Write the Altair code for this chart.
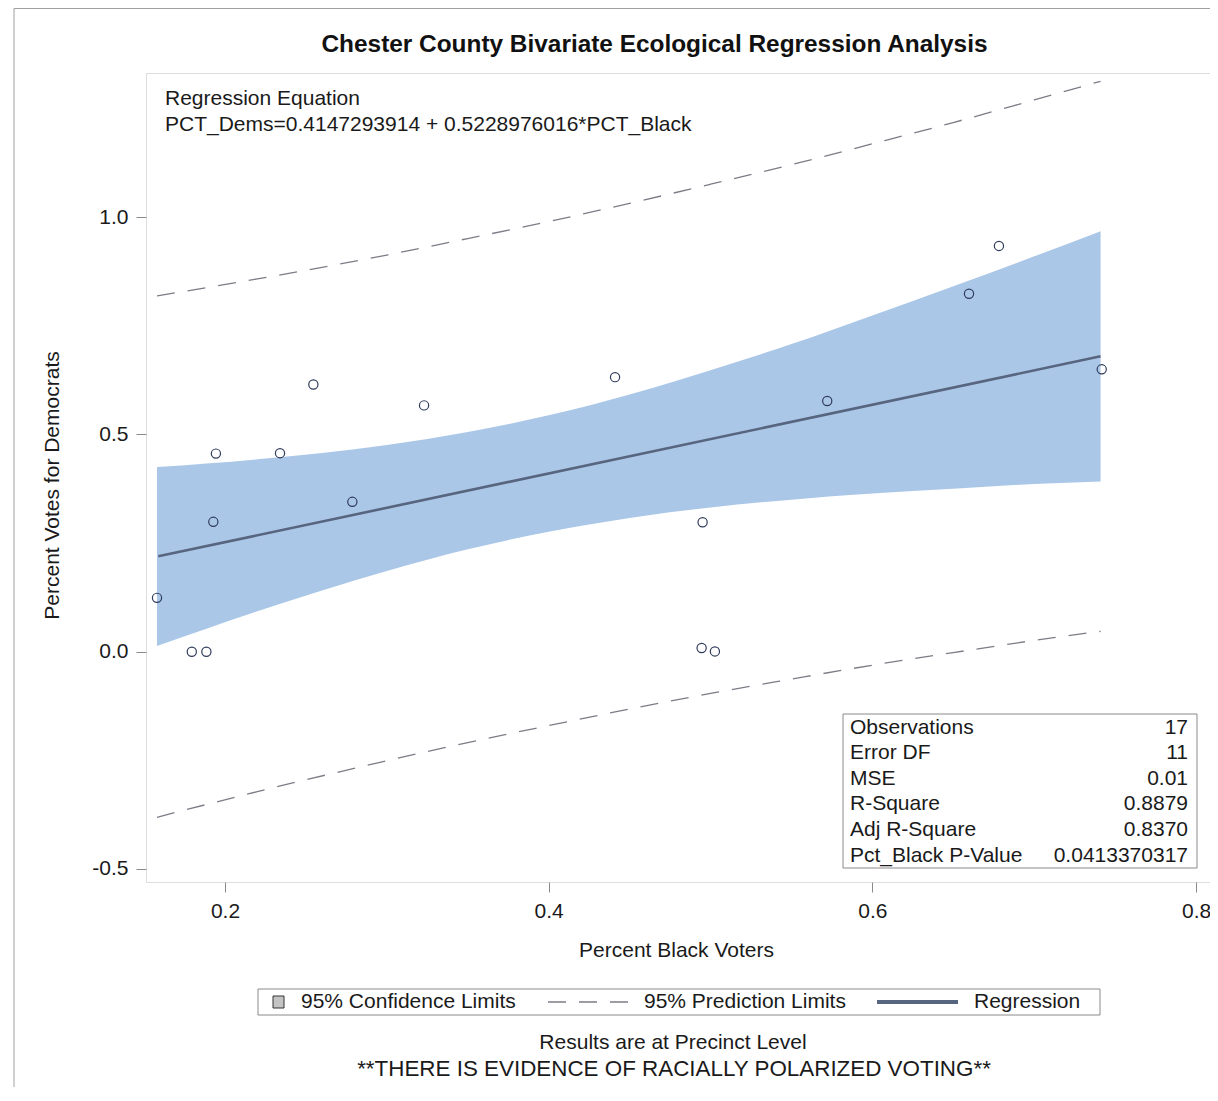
import altair as alt
import pandas as pd

# ---------------- data ----------------
title_text = "Chester County Bivariate Ecological Regression Analysis"
eq_lines = ["Regression Equation", "PCT_Dems=0.4147293914 + 0.5228976016*PCT_Black"]

pct_black = [0.158, 0.1795, 0.1885, 0.1928, 0.1944, 0.234, 0.2546, 0.2787, 0.323,
             0.441, 0.4951, 0.4945, 0.5027, 0.5721, 0.6597, 0.6782, 0.7417]
pct_dems = [0.124, 0.0, 0.0, 0.299, 0.456, 0.457, 0.615, 0.345, 0.567,
            0.632, 0.298, 0.0085, 0.0007, 0.577, 0.824, 0.934, 0.650]

fit_x = [0.1588, 0.741]
fit_y = [0.2196, 0.680]

band_x = [0.158, 0.22, 0.30, 0.35, 0.40, 0.45, 0.50, 0.55, 0.60, 0.65, 0.70, 0.741]
conf_upper = [0.425, 0.443, 0.476, 0.506, 0.544, 0.592, 0.648, 0.708, 0.774, 0.841, 0.910, 0.968]
conf_lower = [0.013, 0.093, 0.186, 0.236, 0.276, 0.308, 0.332, 0.350, 0.364, 0.375, 0.386, 0.392]
pred_upper = [0.819, 0.858, 0.913, 0.951, 0.990, 1.032, 1.076, 1.121, 1.169, 1.218, 1.270, 1.313]
pred_lower = [-0.381, -0.322, -0.251, -0.209, -0.170, -0.132, -0.096, -0.063, -0.031, -0.002, 0.026, 0.047]

stat_labels = ["Observations", "Error DF", "MSE", "R-Square", "Adj R-Square", "Pct_Black P-Value"]
stat_values = ["17", "11", "0.01", "0.8879", "0.8370", "0.0413370317"]

legend_labels = ["95% Confidence Limits", "95% Prediction Limits", "Regression"]
footnotes = ["Results are at Precinct Level", "**THERE IS EVIDENCE OF RACIALLY POLARIZED VOTING**"]

x_ticks = [0.2, 0.4, 0.6, 0.8]
y_ticks = [-0.5, 0.0, 0.5, 1.0]
x_domain = [0.1512, 0.8086]
y_domain = [-0.530, 1.332]

# ---------------- styling ----------------
FONT = "Liberation Sans"
BAND = "#ABC7E8"
REG = "#57657E"
DASH = "#7C7C88"
PT = "#2F3B5C"
FRAME = "#8A8A8A"
TXT = "#1A1A1A"
DASH_PAT = [18, 13]

xscale = alt.Scale(domain=x_domain, nice=False, zero=False)
yscale = alt.Scale(domain=y_domain, nice=False, zero=False)

neg_fmt = "datum.value < 0 ? '-' + format(-datum.value, '.1f') : format(datum.value, '.1f')"

xaxis = alt.Axis(title="Percent Black Voters", values=x_ticks, labelExpr=neg_fmt,
                 grid=False, domain=False, tickSize=10, tickColor=FRAME, tickWidth=1,
                 labelFontSize=21, labelColor=TXT, labelPadding=8, labelFont=FONT,
                 titleFontSize=21, titleFontWeight="normal", titleColor=TXT, titleFont=FONT,
                 titleX=530, titleY=68, titleAlign="center", titleBaseline="middle")
yaxis = alt.Axis(title="Percent Votes for Democrats", values=y_ticks, labelExpr=neg_fmt,
                 grid=False, domain=False, tickSize=10, tickColor=FRAME, tickWidth=1,
                 labelFontSize=21, labelColor=TXT, labelPadding=8, labelFont=FONT,
                 titleFontSize=21, titleFontWeight="normal", titleColor=TXT, titleFont=FONT,
                 titleX=-94, titleY=412, titleAngle=270, titleAlign="center", titleBaseline="middle")


def X(f):
    return alt.X(f"{f}:Q", scale=xscale, axis=xaxis)


def Y(f):
    return alt.Y(f"{f}:Q", scale=yscale, axis=yaxis)


pts = pd.DataFrame({"pct_black": pct_black, "pct_dems": pct_dems})
band = pd.DataFrame({"x": band_x, "cu": conf_upper, "cl": conf_lower,
                     "pu": pred_upper, "pl": pred_lower})
fit = pd.DataFrame({"x": fit_x, "y": fit_y})
one = pd.DataFrame({"k": [0]})

band_layer = alt.Chart(band).mark_area(color=BAND, opacity=1, interpolate="monotone").encode(
    x=X("x"), y=Y("cu"), y2="cl:Q")
pu_layer = alt.Chart(band).mark_line(color=DASH, strokeDash=DASH_PAT, strokeWidth=1.3,
                                     interpolate="monotone").encode(x=X("x"), y=Y("pu"))
pl_layer = alt.Chart(band).mark_line(color=DASH, strokeDash=DASH_PAT, strokeWidth=1.3,
                                     interpolate="monotone").encode(x=X("x"), y=Y("pl"))
fit_layer = alt.Chart(fit).mark_line(color=REG, strokeWidth=2.6).encode(x=X("x"), y=Y("y"))
pt_layer = alt.Chart(pts).mark_point(shape="circle", filled=False, size=85, color=PT,
                                     strokeWidth=1.2, opacity=1).encode(
    x=X("pct_black"), y=Y("pct_dems"))

# ---------------- annotations ----------------
outer = alt.Chart(one).mark_rect(fillOpacity=0, stroke="#A0A0A0", strokeWidth=1).encode(
    x=alt.value(-132), x2=alt.value(1200), y=alt.value(-64.5), y2=alt.value(1200))

title_layer = alt.Chart(one).mark_text(font=FONT, fontSize=24.4, fontWeight="bold", color="#111",
                                       align="center", baseline="middle").encode(
    x=alt.value(508.5), y=alt.value(-28.5), text=alt.value(title_text))

eq_layer = alt.Chart(one).mark_text(font=FONT, fontSize=21, color=TXT, align="left",
                                    baseline="top", lineHeight=26).encode(
    x=alt.value(19), y=alt.value(15), text=alt.value(eq_lines))

stats_box = alt.Chart(one).mark_rect(fill="white", stroke=FRAME, strokeWidth=1).encode(
    x=alt.value(697), x2=alt.value(1051), y=alt.value(641), y2=alt.value(795))
stats_lab = alt.Chart(one).mark_text(font=FONT, fontSize=21, color=TXT, align="left",
                                     baseline="top", lineHeight=25.6).encode(
    x=alt.value(704), y=alt.value(643.5), text=alt.value(stat_labels))
stats_val = alt.Chart(one).mark_text(font=FONT, fontSize=21, color=TXT, align="right",
                                     baseline="top", lineHeight=25.6).encode(
    x=alt.value(1042), y=alt.value(643.5), text=alt.value(stat_values))

leg_box = alt.Chart(one).mark_rect(fill="white", stroke=FRAME, strokeWidth=1).encode(
    x=alt.value(112), x2=alt.value(954), y=alt.value(916), y2=alt.value(942))
leg_sq = alt.Chart(one).mark_rect(fill="#C4C4C4", stroke="#333", strokeWidth=1).encode(
    x=alt.value(127), x2=alt.value(138), y=alt.value(923), y2=alt.value(935))
leg_dash = alt.Chart(one).mark_rule(color=DASH, strokeDash=DASH_PAT, strokeWidth=1.3).encode(
    x=alt.value(402), x2=alt.value(484), y=alt.value(929))
leg_line = alt.Chart(one).mark_rule(color=REG, strokeWidth=4).encode(
    x=alt.value(731), x2=alt.value(812), y=alt.value(929))
leg_txt = [
    alt.Chart(one).mark_text(font=FONT, fontSize=21, color=TXT, align="left",
                             baseline="middle").encode(
        x=alt.value(px), y=alt.value(929), text=alt.value(lbl))
    for px, lbl in zip([155, 498, 828], legend_labels)
]

foot1 = alt.Chart(one).mark_text(font=FONT, fontSize=21, color=TXT, align="center",
                                 baseline="middle").encode(
    x=alt.value(527), y=alt.value(970), text=alt.value(footnotes[0]))
foot2 = alt.Chart(one).mark_text(font=FONT, fontSize=22.4, color=TXT, align="center",
                                 baseline="middle").encode(
    x=alt.value(528), y=alt.value(996), text=alt.value(footnotes[1]))

chart = alt.layer(
    outer, band_layer, pu_layer, pl_layer, fit_layer, pt_layer,
    stats_box, stats_lab, stats_val, title_layer, eq_layer,
    leg_box, leg_sq, leg_dash, leg_line, *leg_txt, foot1, foot2
).properties(
    width=1064, height=809,
    autosize=alt.AutoSizeParams(type="none"),
    padding={"left": 138, "top": 65, "right": 0, "bottom": 205},
).configure_view(
    stroke=FRAME, strokeWidth=1.2
).configure(font=FONT, background="white")

chart.save("out.html", embed_options={"renderer": "svg", "actions": False})
